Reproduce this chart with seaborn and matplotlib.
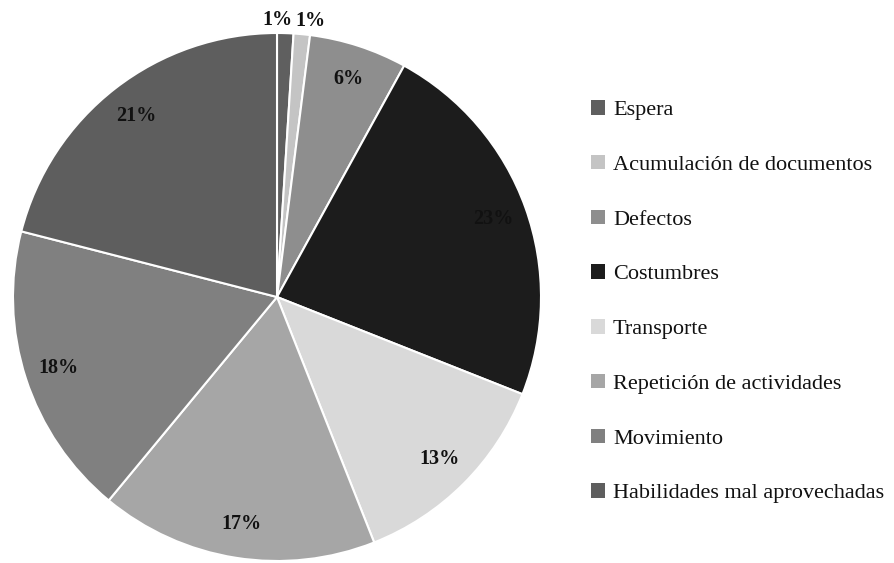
import matplotlib
matplotlib.use("Agg")
import matplotlib.pyplot as plt
import seaborn as sns
import numpy as np
from matplotlib.patches import Patch

categories = ["Espera", "Acumulación de documentos", "Defectos", "Costumbres",
              "Transporte", "Repetición de actividades", "Movimiento",
              "Habilidades mal aprovechadas"]
values = [1, 1, 6, 23, 13, 17, 18, 21]
colors = ["#5f5f5f", "#c4c4c4", "#8e8e8e", "#1c1c1c",
          "#d9d9d9", "#a6a6a6", "#808080", "#5e5e5e"]

sns.set_theme(style="white")
plt.rcParams['font.family'] = ['Liberation Serif', 'DejaVu Serif']

W, H = 895, 563
fig = plt.figure(figsize=(W / 100, H / 100), dpi=100)
cx, cy, r = 277, 297, 264
ax = fig.add_axes([(cx - r) / W, (H - cy - r) / H, 2 * r / W, 2 * r / H])

wedges, texts, autotexts = ax.pie(
    values, colors=colors, startangle=90, counterclock=False,
    autopct=lambda p: f"{p:.0f}%", pctdistance=0.87,
    wedgeprops=dict(edgecolor="white", linewidth=1.5),
    textprops=dict(fontsize=14.5, color="#111111", fontweight="bold"))
ax.set_xlim(-1, 1)
ax.set_ylim(-1, 1)
ax.set_aspect("equal")

# small slices: label outside the pie, spread apart
small = [i for i, v in enumerate(values) if v < 3]
for k, i in enumerate(small):
    w = wedges[i]
    ang = np.deg2rad((w.theta1 + w.theta2) / 2)
    x = 1.05 * np.cos(ang) + (-0.03 if k == 0 else 0.027)
    y = 1.05 * np.sin(ang)
    autotexts[i].set_position((x, y))
    autotexts[i].set_ha("center")

handles = [Patch(facecolor=c, edgecolor="none") for c in colors]
fig.legend(handles, categories, loc="upper left",
           bbox_to_anchor=(571 / W, 1 - 80 / H), frameon=False,
           fontsize=16, handlelength=0.63, handleheight=0.63,
           handletextpad=0.36, labelspacing=1.56,
           labelcolor="#111111")

fig.savefig("out.png", dpi=100, facecolor="white")
